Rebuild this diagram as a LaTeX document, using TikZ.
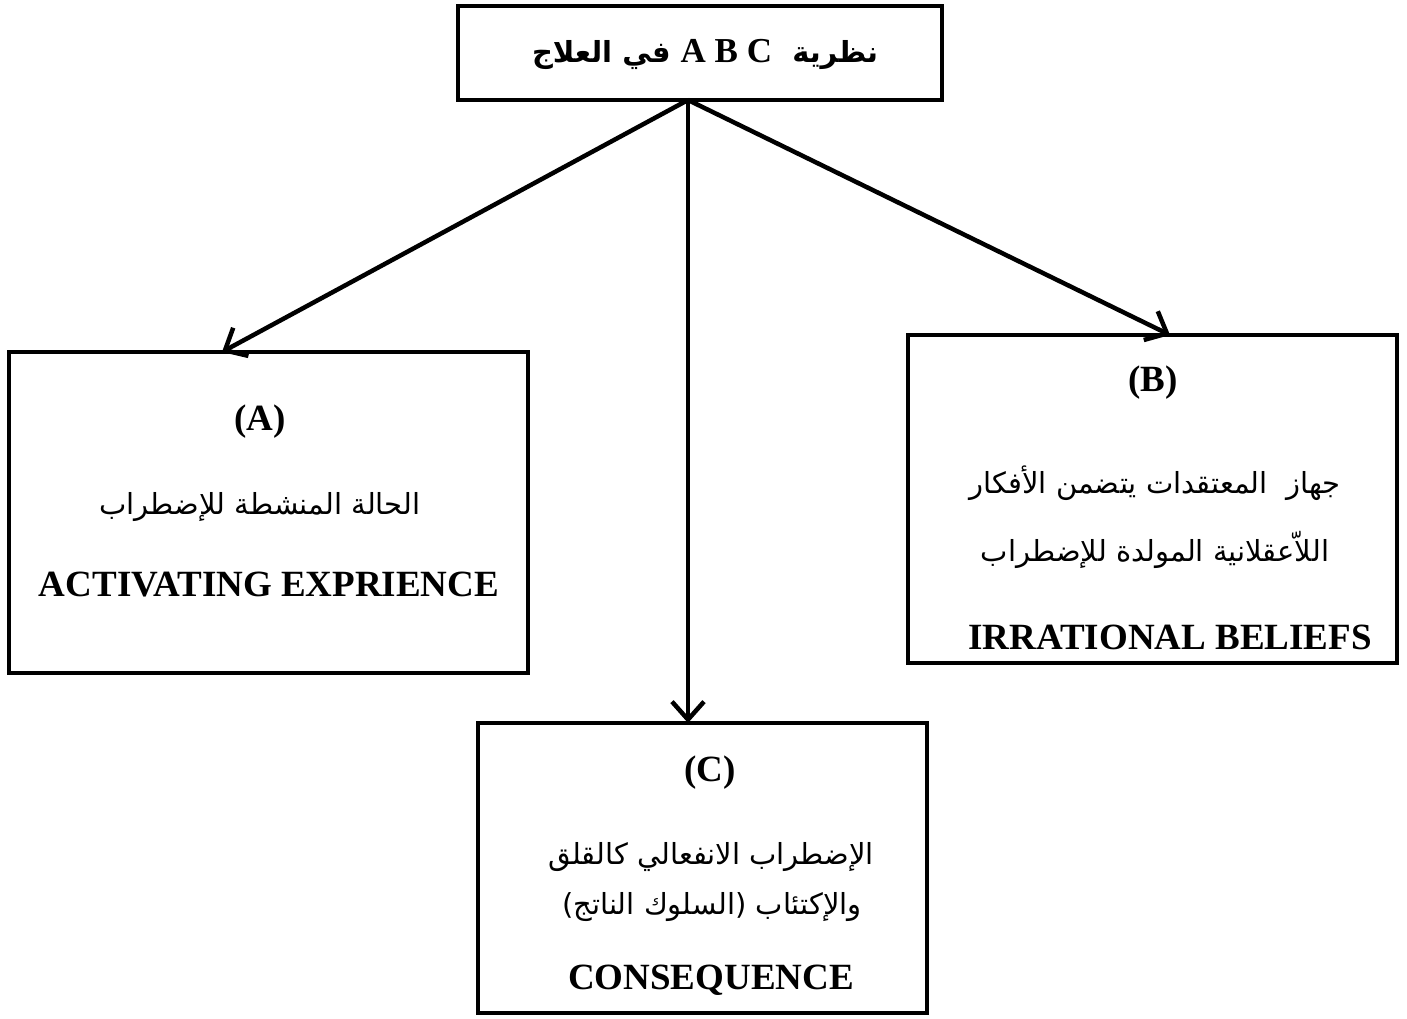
\documentclass[tikz,border=0pt]{standalone}
\usepackage{fontspec}
\setmainfont{Liberation Serif}
\newfontfamily\arabicfont[Script=Arabic]{DejaVu Sans}
\TeXXeTstate=1
\usetikzlibrary{arrows.meta}

\tikzset{
  frame/.style={draw, line width=4.8pt, inner sep=0pt, rectangle},
  latinlbl/.style={font=\fontsize{37}{40}\selectfont\bfseries, inner sep=0pt},
  arablbl/.style={font=\arabicfont\fontsize{29}{34}\selectfont, inner sep=0pt},
  link/.style={line width=4.5pt, -{Straight Barb[length=18pt,width=32pt,line width=4.5pt]}}
}

\begin{document}
\begin{tikzpicture}[x=1pt,y=-1pt]
  \useasboundingbox (0,0) rectangle (1407,1019);

  % boxes
  \node[frame, minimum width=484, minimum height=94] (top) at (700,53) {};
  \node[frame, minimum width=519, minimum height=321] (A) at (268.5,512.5) {};
  \node[frame, minimum width=489, minimum height=328] (B) at (1152.5,499) {};
  \node[frame, minimum width=449, minimum height=290] (C) at (702.5,868) {};

  % title
  \node[inner sep=0pt, font=\arabicfont\bfseries\fontsize{29}{32}\selectfont] (title) at (705,54)
    {\beginR نظرية\ \ \beginL{\rmfamily\bfseries\fontsize{35}{36}\selectfont A B C}\endL\ في العلاج\endR};

  % box A
  \node[latinlbl] (Ahead) at (260,422) {(A)};
  \node[arablbl] (Atext) at (260,507) {\beginR الحالة المنشطة للإضطراب\endR};
  \node[latinlbl] (Aeng) at (269,585) {ACTIVATING EXPRIENCE};

  % box B
  \node[latinlbl] (Bhead) at (1153,383) {(B)};
  \node[arablbl] (Btext1) at (1155,483) {\beginR جهاز\ \ المعتقدات يتضمن الأفكار\endR};
  \node[arablbl] (Btext2) at (1155,550) {\beginR اللاّعقلانية المولدة للإضطراب\endR};
  \node[latinlbl] (Beng) at (1170,637) {IRRATIONAL BELIEFS};

  % box C
  \node[latinlbl] (Chead) at (710,773) {(C)};
  \node[arablbl] (Ctext1) at (711,857) {\beginR الإضطراب الانفعالي كالقلق\endR};
  \node[arablbl] (Ctext2) at (712,907) {\beginR والإكتئاب (السلوك الناتج)\endR};
  \node[latinlbl] (Ceng) at (711,980) {CONSEQUENCE};

  % connectors from the title box
  \coordinate (hub) at (688,100);
  \coordinate (Ain) at (222,352);
  \coordinate (Bin) at (1170,335);
  \coordinate (Cin) at (688,723);
  \draw[link] (hub) -- (Ain);
  \draw[link] (hub) -- (Bin);
  \draw[link] (hub) -- (Cin);
\end{tikzpicture}
\end{document}
